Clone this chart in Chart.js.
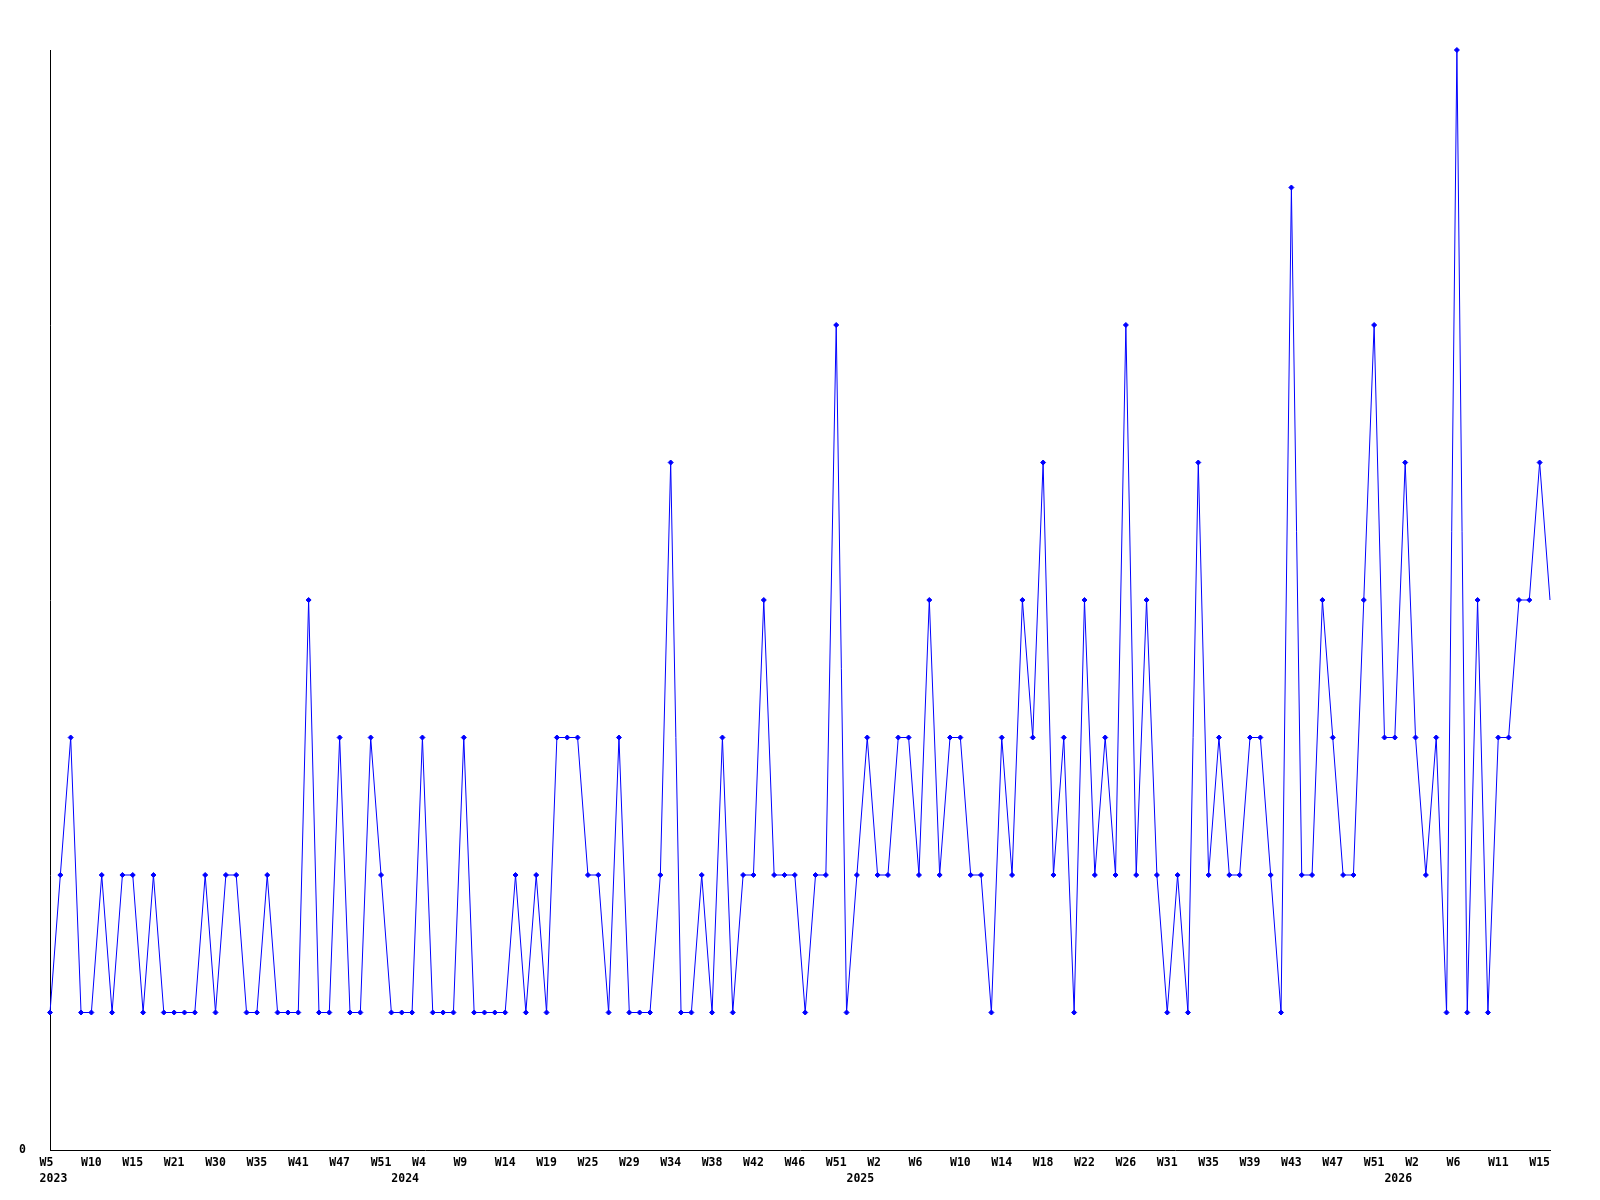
<!DOCTYPE html>
<html>
<head>
<meta charset="utf-8">
<script src="https://cdn.jsdelivr.net/npm/chart.js@4"></script>
<style>
  html, body { margin: 0; padding: 0; background: #fff; }
  canvas { display: block; }
</style>
</head>
<body>
<canvas id="myChart" width="1600" height="1200"></canvas>
<script>
// weekly counts, one point per week that had data
var values = [
  1, 2, 3, 1, 1, 2, 1, 2, 2, 1, 2, 1, 1, 1, 1, 2, 1, 2, 2, 1, 1, 2, 1, 1, 1,
  4, 1, 1, 3, 1, 1, 3, 2, 1, 1, 1, 3, 1, 1, 1, 3, 1, 1, 1, 1, 2, 1, 2, 1,
  3, 3, 3, 2, 2, 1, 3, 1, 1, 1, 2, 5, 1, 1, 2, 1, 3, 1, 2, 2, 4, 2, 2, 2,
  1, 2, 2, 6, 1, 2, 3, 2, 2, 3, 3, 2, 4, 2, 3, 3, 2, 2, 1, 3, 2, 4, 3, 5,
  2, 3, 1, 4, 2, 3, 2, 6, 2, 4, 2, 1, 2, 1, 5, 2, 3, 2, 2, 3, 3, 2, 1, 7,
  2, 2, 4, 3, 2, 2, 4, 6, 3, 3, 5, 3, 2, 3, 1, 8, 1, 4, 1, 3, 3, 4, 4, 5, 4
];

// week label shown on every 4th point
var tickLabels = [
  'W5', 'W10', 'W15', 'W21', 'W30', 'W35', 'W41', 'W47', 'W51',
  'W4', 'W9', 'W14', 'W19', 'W25', 'W29', 'W34', 'W38', 'W42', 'W46', 'W51',
  'W2', 'W6', 'W10', 'W14', 'W18', 'W22', 'W26', 'W31', 'W35', 'W39', 'W43', 'W47', 'W51',
  'W2', 'W6', 'W11', 'W15'
];
var tickEvery = 4;

// year labels and the point where each year starts
var yearLabels = ['2023', '2024', '2025', '2026'];
var yearAt = [0, 34, 78, 130];

var categories = values.map(function (v, i) { return i; });

var font = { family: 'DejaVu Sans Mono', size: 11.5, weight: 'bold', lineHeight: 1.37 };

var ctx = document.getElementById('myChart').getContext('2d');

var myChart = new Chart(ctx, {
  type: 'line',
  data: {
    labels: categories,
    datasets: [{
      data: values,
      borderColor: '#0000ff',
      backgroundColor: '#0000ff',
      borderWidth: 1,
      pointStyle: 'rectRot',
      // the last point sits on the plot edge and shows no marker
      pointRadius: function (c) { return c.dataIndex === values.length - 1 ? 0 : 2.5; },
      pointBorderWidth: 1,
      tension: 0,
      clip: false
    }]
  },
  options: {
    responsive: false,
    animation: false,
    devicePixelRatio: 1,
    layout: { padding: { left: 0, right: 50, top: 50, bottom: 0 } },
    plugins: {
      legend: { display: false },
      tooltip: { enabled: false }
    },
    scales: {
      x: {
        type: 'category',
        offset: false,
        grid: { display: false, drawTicks: false },
        border: { display: true, color: '#000', width: 1 },
        afterFit: function (scale) { scale.height = 50; },
        ticks: {
          autoSkip: false,
          maxRotation: 0,
          minRotation: 0,
          padding: 5,
          color: '#000',
          font: font,
          callback: function (value, index) {
            var lines = [index % tickEvery === 0 ? tickLabels[index / tickEvery].padEnd(3) : ''];
            var y = yearAt.indexOf(index);
            if (y >= 0) lines.push(yearLabels[y].padStart(5));
            return lines.length > 1 ? lines : lines[0];
          }
        }
      },
      y: {
        min: 0,
        max: 8,
        grid: { display: false, drawTicks: false },
        border: { display: true, color: '#000', width: 1 },
        afterFit: function (scale) { scale.width = 50; },
        ticks: {
          stepSize: 8,
          padding: 24,
          color: '#000',
          font: font,
          callback: function (value) { return value === 0 ? '0' : ''; }
        }
      }
    }
  }
});
</script>
</body>
</html>
